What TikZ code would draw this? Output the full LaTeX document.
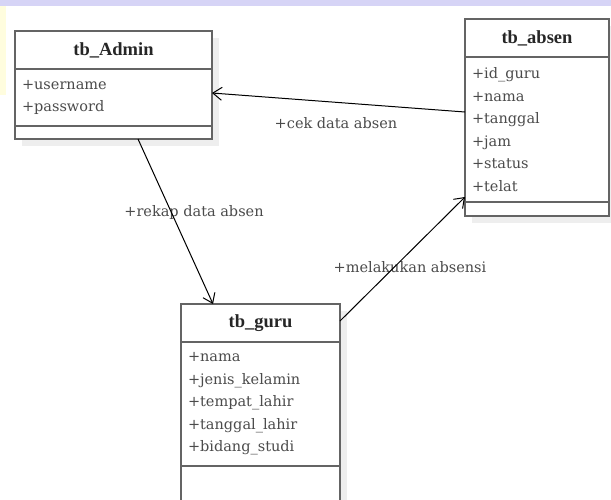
\documentclass[tikz,border=0pt]{standalone}
\usepackage{fontspec}
\setmainfont{Liberation Serif}
\newfontfamily\attrfont{DejaVu Serif}
\usetikzlibrary{positioning,shadows,arrows.meta}
\definecolor{boxgray}{RGB}{100,100,100}
\definecolor{textgray}{RGB}{75,75,75}
\definecolor{shadowgray}{RGB}{238,238,238}
\definecolor{bandblue}{RGB}{214,212,246}
\definecolor{bandyellow}{RGB}{255,253,222}

\begin{document}
\begin{tikzpicture}[x=1pt,y=-1pt,>={Straight Barb[length=9pt,width=13pt]}]
  \tikzstyle{part}=[draw=boxgray, line width=1.5pt, fill=white, inner sep=0pt,
outer sep=0pt, drop shadow={shadow xshift=7pt, shadow yshift=-7pt, fill=shadowgray, opacity=1}]
  \tikzstyle{titlepart}=[part, minimum height=38, font=\bfseries\fontsize{18.5}{22}\selectfont, text=black!85]
  \tikzstyle{attrpart}=[part, inner xsep=7pt, align=left, text=textgray,
font=\attrfont\fontsize{14.5}{22.5}\selectfont]
  \tikzstyle{lbl}=[text=textgray, font=\attrfont\fontsize{14.5}{18}\selectfont]

  \useasboundingbox (0,0) rectangle (611,499);
  \clip (0,0) rectangle (611,499);
  \fill[white] (0,0) rectangle (611,499);
  \fill[bandyellow] (0,0) rectangle (6,95);
  \fill[bandblue] (0,0) rectangle (611,6);

  % tb_Admin
  \node[titlepart, minimum width=197] (admin_t) at (113.5,50) {tb\_Admin};
  \node[attrpart, text width=183, minimum height=57, below=0pt of admin_t] (admin_a)
    {+username\\+password};
  \node[part, minimum width=197, minimum height=13, below=0pt of admin_a] (admin_m) {};

  % tb_absen
  \node[titlepart, minimum width=144] (absen_t) at (537,38) {tb\_absen};
  \node[attrpart, text width=130, minimum height=145, below=0pt of absen_t] (absen_a)
    {+id\_guru\\+nama\\+tanggal\\+jam\\+status\\+telat};
  \node[part, minimum width=144, minimum height=14, below=0pt of absen_a] (absen_m) {};

  % tb_guru
  \node[titlepart, minimum width=159] (guru_t) at (260.5,323) {tb\_guru};
  \node[attrpart, text width=145, minimum height=124, below=0pt of guru_t] (guru_a)
    {+nama\\+jenis\_kelamin\\+tempat\_lahir\\+tanggal\_lahir\\+bidang\_studi};
  \node[part, minimum width=159, minimum height=60, below=0pt of guru_a] (guru_m) {};

  \node[lbl] (cek_lbl) at (336,123) {+cek data absen};
  \node[lbl] (rekap_lbl) at (194,212) {+rekap data absen};
  \node[lbl] (absensi_lbl) at (410,267) {+melakukan absensi};

  \draw[->, line width=1pt] ([yshift=17.5]absen_a.west) -- ([yshift=4.5]admin_a.east);
  \draw[->, line width=1pt] ([xshift=24.5]admin_m.south) -- ([xshift=-47.5]guru_t.north);
  \draw[->, line width=1pt] ([yshift=2]guru_t.east) -- ([yshift=-67.5]absen_a.west);
\end{tikzpicture}
\end{document}
